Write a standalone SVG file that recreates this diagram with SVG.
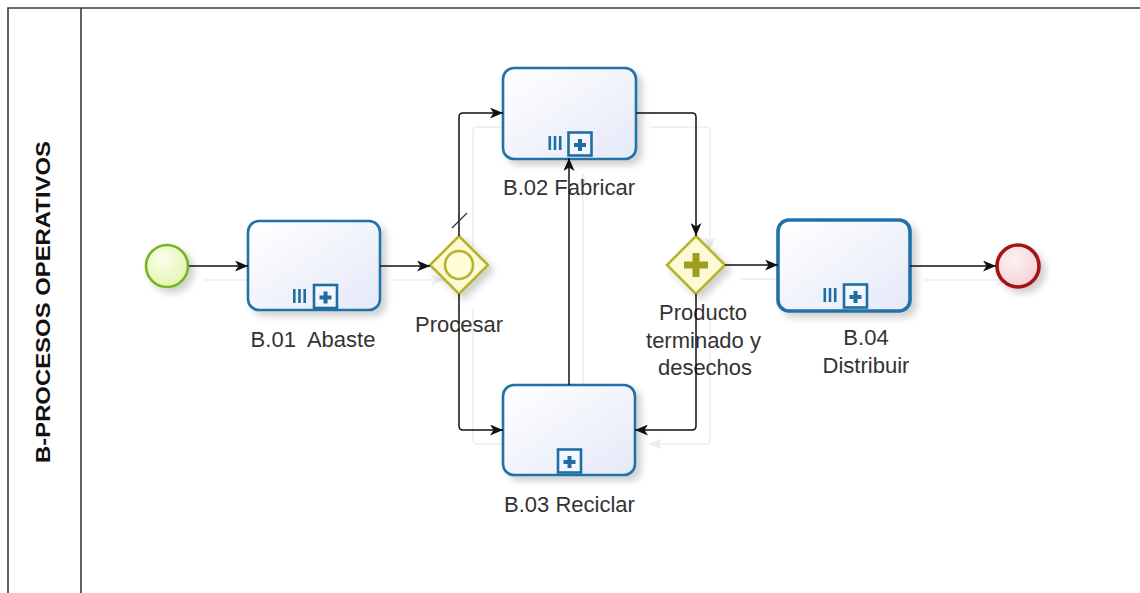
<svg xmlns="http://www.w3.org/2000/svg" width="1140" height="593" viewBox="0 0 1140 593">
  <defs>
    <style>
      .pool { fill: none; stroke: #3a3a3a; stroke-width: 1.6; }
      .lane-title { font-family: "Liberation Sans", Arial, sans-serif; font-weight: bold; font-size: 20px; fill: #111; }
      .lbl { font-family: "Liberation Sans", Arial, sans-serif; font-size: 22px; fill: #333; text-anchor: middle; }
      .task { fill: url(#taskFill); stroke: #2272a8; stroke-width: 2.6; filter: url(#shadow); }
      .task-strong { stroke-width: 3.6; }
      .gw { fill: #fcfad4; stroke: #b6b32a; stroke-width: 2.6; filter: url(#shadow); }
      .flow { fill: none; stroke: #111; stroke-width: 1.5; marker-end: url(#arrow); }
      .flow-ghost { fill: none; stroke: #ededed; stroke-width: 1.5; marker-end: url(#arrowGhost); }
      .mkbar { fill: #1f6ea3; }
    </style>
    <linearGradient id="taskFill" x1="0" y1="0" x2="1" y2="1">
      <stop offset="0" stop-color="#ffffff"/>
      <stop offset="1" stop-color="#e5e9f8"/>
    </linearGradient>
    <radialGradient id="startFill" cx="0.4" cy="0.35" r="0.7">
      <stop offset="0" stop-color="#fbfee9"/>
      <stop offset="1" stop-color="#e2f5b0"/>
    </radialGradient>
    <radialGradient id="endFill" cx="0.4" cy="0.35" r="0.7">
      <stop offset="0" stop-color="#fdf2f3"/>
      <stop offset="1" stop-color="#f4d0d4"/>
    </radialGradient>
    <filter id="shadow" x="-20%" y="-20%" width="150%" height="150%">
      <feDropShadow dx="5" dy="5" stdDeviation="3.5" flood-color="#000" flood-opacity="0.18"/>
    </filter>
    <marker id="arrow" viewBox="0 0 13 11" refX="13" refY="5.5" markerWidth="13" markerHeight="11" markerUnits="userSpaceOnUse" orient="auto">
      <path d="M0,0 L13,5.5 L0,11 L3.5,5.5 z" fill="#111"/>
    </marker>
    <marker id="arrowGhost" viewBox="0 0 13 11" refX="13" refY="5.5" markerWidth="13" markerHeight="11" markerUnits="userSpaceOnUse" orient="auto">
      <path d="M0,0 L13,5.5 L0,11 L3.5,5.5 z" fill="#ececec"/>
    </marker>
    <!-- collapsed sub-process marker: origin at top centre of the square -->
    <g id="subMarker">
      <rect x="-11.5" y="0" width="23" height="23" fill="#f4f6fd" stroke="#1f6ea3" stroke-width="2.6"/>
      <path d="M-6,12.5 H6 M0,6.5 V18.5" stroke="#1f6ea3" stroke-width="4" fill="none"/>
    </g>
    <!-- parallel multi-instance marker: origin at top left -->
    <g id="multiMarker">
      <rect class="mkbar" x="0" y="0" width="2.6" height="14"/>
      <rect class="mkbar" x="5.2" y="0" width="2.6" height="14"/>
      <rect class="mkbar" x="10.4" y="0" width="2.6" height="14"/>
    </g>
  </defs>

  <rect width="1140" height="593" fill="#ffffff"/>

  <!-- pool and lane -->
  <g id="pool">
    <path class="pool" d="M8,593 V8 H1140"/>
    <path class="pool" d="M81,8 V593"/>
    <text class="lane-title" transform="translate(50,302) rotate(-90)" text-anchor="middle" textLength="322" lengthAdjust="spacingAndGlyphs">B-PROCESOS OPERATIVOS</text>
  </g>

  <!-- faint connector shadows -->
  <g id="connector-shadows">
    <path class="flow-ghost" d="M204,280 H262"/>
    <path class="flow-ghost" d="M394,280 H444"/>
    <path class="flow-ghost" d="M473,249 V131 Q473,127 477,127 H517"/>
    <path class="flow-ghost" d="M473,309 V440 Q473,444 477,444 H517"/>
    <path class="flow-ghost" d="M650,127 H706 Q710,127 710,131 V250"/>
    <path class="flow-ghost" d="M710,308 V440 Q710,444 706,444 H649"/>
    <path class="flow-ghost" d="M583,399 V173"/>
    <path class="flow-ghost" d="M740,279 H792"/>
    <path class="flow-ghost" d="M924,280 H1010"/>
  </g>

  <!-- start event -->
  <g id="start">
    <circle cx="167" cy="266" r="21" fill="url(#startFill)" stroke="#74b51e" stroke-width="2.6" filter="url(#shadow)"/>
  </g>

  <!-- B.01 Abaste -->
  <g id="task-b01">
    <rect class="task" x="248" y="221" width="132" height="89" rx="11"/>
    <use href="#multiMarker" x="293" y="289"/>
    <use href="#subMarker" x="325.5" y="285"/>
    <text class="lbl" x="313" y="347" xml:space="preserve">B.01  Abaste</text>
  </g>

  <!-- event-based gateway Procesar -->
  <g id="gw-procesar">
    <path class="gw" d="M459,236 L488,265 L459,294 L430,265 z"/>
    <circle cx="459" cy="265" r="14" fill="#fffcd8" stroke="#b6b32a" stroke-width="2.6"/>
    <text class="lbl" x="459" y="332">Procesar</text>
  </g>

  <!-- B.02 Fabricar -->
  <g id="task-b02">
    <rect class="task" x="503" y="68" width="133" height="91" rx="11"/>
    <use href="#multiMarker" x="548.5" y="136"/>
    <use href="#subMarker" x="580" y="132.5"/>
    <text class="lbl" x="569" y="195">B.02 Fabricar</text>
  </g>

  <!-- B.03 Reciclar -->
  <g id="task-b03">
    <rect class="task" x="503" y="385" width="132" height="90" rx="11"/>
    <use href="#subMarker" x="569.5" y="449.5"/>
    <text class="lbl" x="569.5" y="512">B.03 Reciclar</text>
  </g>

  <!-- parallel gateway -->
  <g id="gw-producto">
    <path class="gw" d="M696,236 L725,265 L696,294 L667,265 z"/>
    <path d="M684,265 H708 M696,253 V277" stroke="#a09e1e" stroke-width="7" fill="none"/>
    <text class="lbl" x="703" y="320">Producto</text>
    <text class="lbl" x="703.5" y="348">terminado y</text>
    <text class="lbl" x="705" y="375">desechos</text>
  </g>

  <!-- B.04 Distribuir -->
  <g id="task-b04">
    <rect class="task task-strong" x="778" y="220" width="132" height="91" rx="11"/>
    <use href="#multiMarker" x="823.5" y="288"/>
    <use href="#subMarker" x="855.5" y="284.5"/>
    <text class="lbl" x="866" y="345">B.04</text>
    <text class="lbl" x="866" y="373">Distribuir</text>
  </g>

  <!-- end event -->
  <g id="end">
    <circle cx="1018" cy="266" r="21" fill="url(#endFill)" stroke="#a31218" stroke-width="3.6" filter="url(#shadow)"/>
  </g>

  <!-- sequence flows -->
  <g id="connectors">
    <path class="flow" d="M189,266 H248"/>
    <path class="flow" d="M380,266 H430"/>
    <path class="flow" d="M459,236 V117 Q459,113 463,113 H503"/>
    <path d="M452,228 L467,213" stroke="#333" stroke-width="1.3"/>
    <path class="flow" d="M459,294 V426 Q459,430 463,430 H503"/>
    <path class="flow" d="M636,113 H692 Q696,113 696,117 V236"/>
    <path class="flow" d="M696,294 V426 Q696,430 692,430 H635"/>
    <path class="flow" d="M569,385 V158"/>
    <path class="flow" d="M725,265 H778"/>
    <path class="flow" d="M910,266 H996"/>
  </g>
</svg>
